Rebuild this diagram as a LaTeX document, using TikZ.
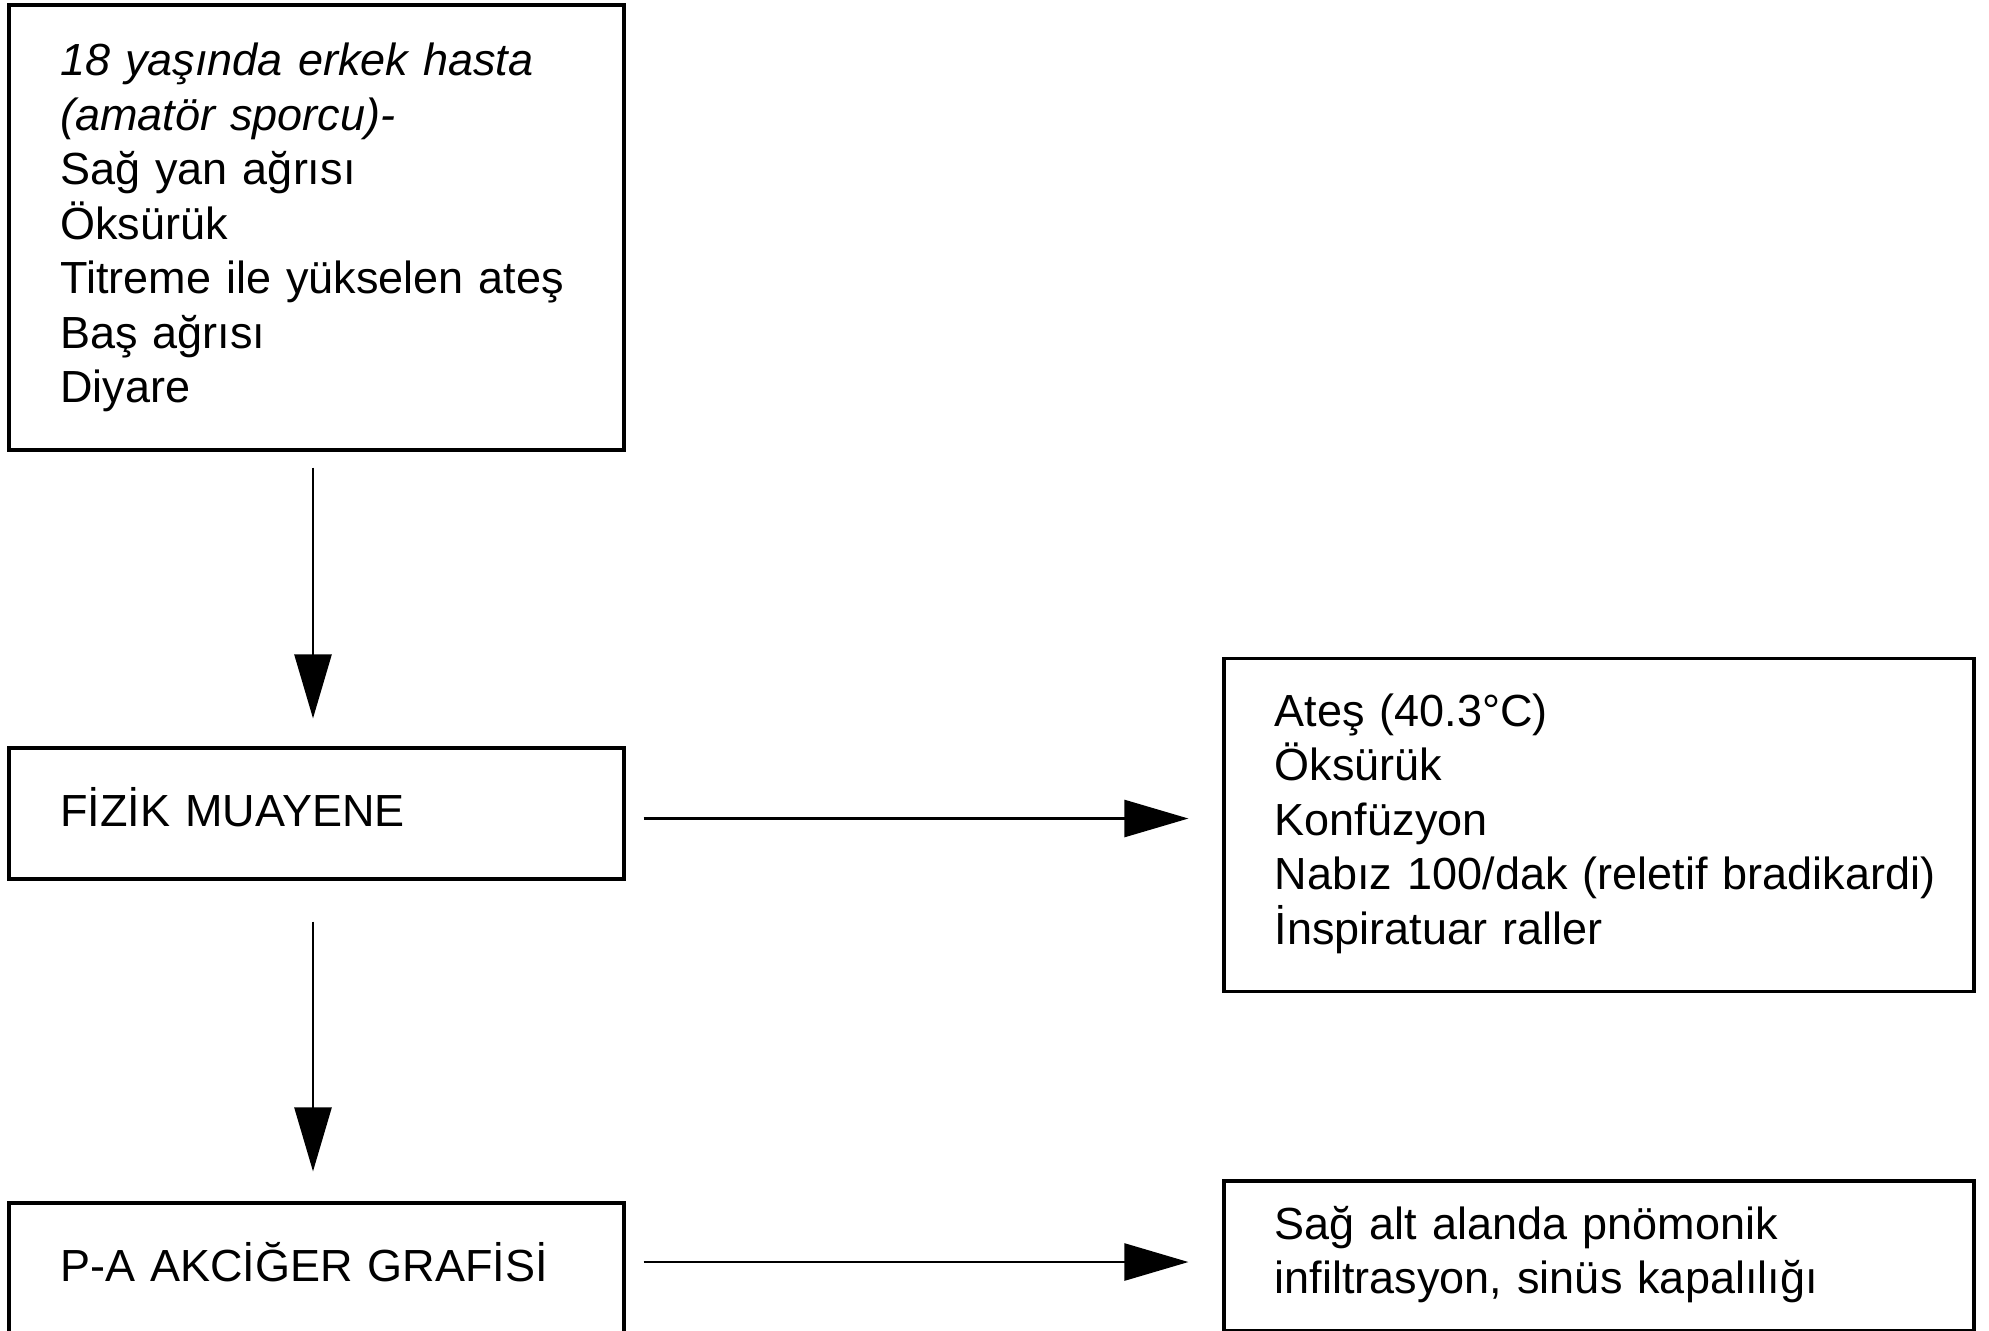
\documentclass[tikz,border=0pt]{standalone}
\usepackage{fontspec}
\setmainfont{Liberation Sans}
\usetikzlibrary{arrows.meta}
\tikzset{
  box/.style={draw, line width=1.6pt, inner sep=0pt, minimum width=307.5pt},
  rbox/.style={draw, line width=1.6pt, inner sep=0pt, minimum width=375pt},
  txt/.style={anchor=north west, inner sep=0pt, align=left, text width=345pt,
    font=\fontsize{22.5pt}{27.25pt}\selectfont},
  arr/.style={line width=1.3pt, -{Triangle[length=32pt, width=18.5pt]}}
}
\newcommand{\firststrut}{\rule{0pt}{24pt}}
\begin{document}
\begin{tikzpicture}[x=0.5pt,y=-0.5pt]
\useasboundingbox (0,0) rectangle (1989,1330);
\clip (0,0) rectangle (1989,1330);
% boxes
\node[box, minimum height=222.5pt] (b1) at (316.5,227.5) {};
\node[box, minimum height=65.5pt] (b2) at (316.5,813.5) {};
\node[box, minimum height=65.5pt] (b3) at (316.5,1268.5) {};
\node[rbox, minimum height=166.5pt] (r1) at (1599,825) {};
\node[rbox, minimum height=75pt] (r2) at (1599,1256) {};
% texts
\node[txt] (t1) at (60,27.5) {\firststrut\textit{18 yaşında erkek hasta}\\
  \textit{(amatör sporcu)-}\\
  Sağ yan ağrısı\\
  Öksürük\\
  Titreme ile yükselen ateş\\
  Baş ağrısı\\
  Diyare};
\node[txt] (t2) at (60,778) {\firststrut FİZİK MUAYENE};
\node[txt] (t3) at (60,1233) {\firststrut P-A AKCİĞER GRAFİSİ};
\node[txt] (t4) at (1274.5,678) {\firststrut Ateş (40.3°C)\\
  Öksürük\\
  Konfüzyon\\
  Nabız 100/dak (reletif bradikardi)\\
  İnspiratuar raller};
\node[txt] (t5) at (1274.5,1191) {\firststrut Sağ alt alanda pnömonik\\
  infiltrasyon, sinüs kapalılığı};
% connectors
\draw[arr, shorten <=8pt, shorten >=14pt] ([xshift=-1.75pt]b1.south) -- ([xshift=-1.75pt]b2.north);
\draw[arr, shorten <=20.5pt, shorten >=15pt] ([xshift=-1.75pt]b2.south) -- ([xshift=-1.75pt]b3.north);
\coordinate (s1) at ([yshift=-2.5pt]b2.east);
\coordinate (s2) at ([yshift=3.25pt]b3.east);
\draw[arr, shorten <=9pt, shorten >=17pt] (s1) -- (s1 -| r1.west);
\draw[arr, shorten <=9pt, shorten >=17pt] (s2) -- (s2 -| r2.west);
\end{tikzpicture}
\end{document}
